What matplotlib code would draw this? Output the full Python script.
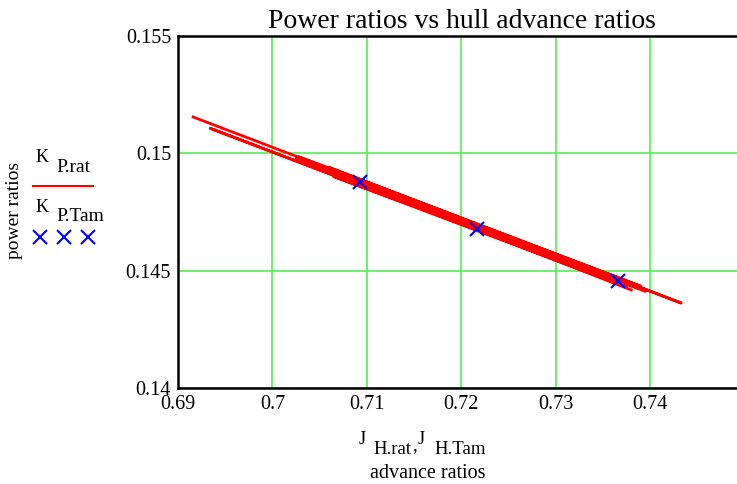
import matplotlib
matplotlib.use("Agg")
import matplotlib.pyplot as plt
from matplotlib.lines import Line2D

plt.rcParams['font.family'] = ['Liberation Serif', 'DejaVu Serif']

# rat series: one path that runs back and forth along the line
J_rat = [0.6916, 0.7433, 0.7060, 0.7390, 0.7028, 0.7375, 0.6934, 0.7365,
         0.7065, 0.7395, 0.7025, 0.7380]
K_rat = [0.15155, 0.14362, 0.14940, 0.14434, 0.14986, 0.14431, 0.15107,
         0.14446, 0.14901, 0.14412, 0.14978, 0.14418]

# Tam points
J_tam = [0.7093, 0.7217, 0.7366]
K_tam = [0.14878, 0.14677, 0.14456]

x_ticks = [0.69, 0.70, 0.71, 0.72, 0.73, 0.74]
x_labels = ['0.69', '0.7', '0.71', '0.72', '0.73', '0.74']
y_ticks = [0.14, 0.145, 0.15, 0.155]
y_labels = ['0.14', '0.145', '0.15', '0.155']

W, H = 737, 484


def px(x, y):
    # pixel position (from top left) -> figure fraction
    return x / W, 1 - y / H


fig = plt.figure(figsize=(7.37, 4.84), dpi=100)
ax = fig.add_axes([0.2415, 0.1983, 0.7585, 0.7273])

ax.plot(J_rat, K_rat, '-', color='red', lw=2, zorder=3)
ax.plot(J_tam, K_tam, 'x', color='blue', ms=10, mew=1.5, zorder=4)

ax.set_xlim(0.69, 0.7492)
ax.set_ylim(0.14, 0.155)
ax.set_xticks(x_ticks)
ax.set_xticklabels(x_labels)
ax.set_yticks(y_ticks)
ax.set_yticklabels(y_labels)
ax.tick_params(length=0, labelsize=14.5, pad=5)
ax.grid(True, color='#55ee55', lw=1.2)
ax.set_axisbelow(True)
for s in ['left', 'bottom', 'top']:
    ax.spines[s].set_linewidth(1.8)
ax.spines['right'].set_visible(False)

fig.text(*px(462, 21), 'Power ratios vs hull advance ratios', ha='center',
         va='center', fontsize=20)

# y label and x label (two lines, Mathcad style)
fig.text(*px(15, 210), 'power ratios', rotation=90, ha='center', va='center', fontsize=14)
fig.text(*px(359, 440), 'J', ha='left', va='center', fontsize=13)
fig.text(*px(373, 449), 'H.rat', ha='left', va='center', fontsize=13.5)
fig.text(*px(412, 446), ',', ha='left', va='center', fontsize=13.5)
fig.text(*px(418, 440), 'J', ha='left', va='center', fontsize=13)
fig.text(*px(434, 449), 'H.Tam', ha='left', va='center', fontsize=13.5)
fig.text(*px(428, 474), 'advance ratios', ha='center', va='center', fontsize=14.5)

# legend at left
fig.text(*px(36, 158), 'K', ha='left', va='center', fontsize=13)
fig.text(*px(56, 168), 'P.rat', ha='left', va='center', fontsize=14)
fig.add_artist(Line2D([33 / W, 93 / W], [1 - 186 / H, 1 - 186 / H], color='red', lw=1.5))
fig.text(*px(36, 207), 'K', ha='left', va='center', fontsize=13)
fig.text(*px(56, 216), 'P.Tam', ha='left', va='center', fontsize=14)
fig.add_artist(Line2D([40 / W, 64 / W, 88 / W], [1 - 237 / H] * 3, ls='none',
                      marker='x', color='blue', ms=10, mew=1.5))

fig.savefig('out.png', dpi=100)
